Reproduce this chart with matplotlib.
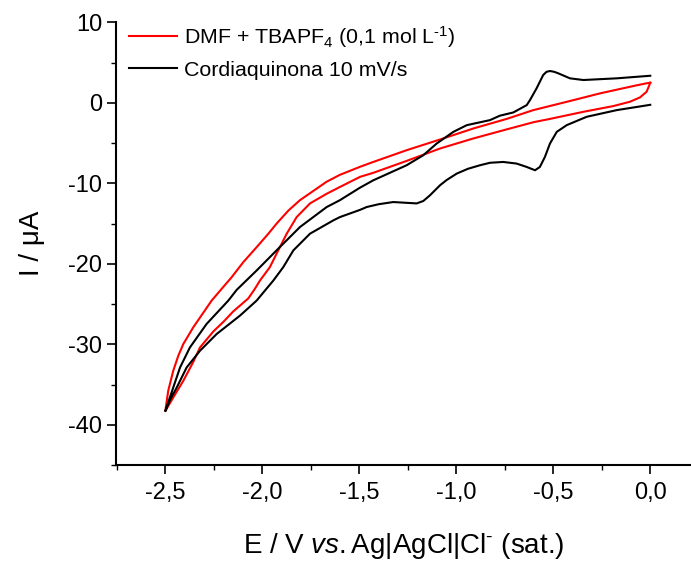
import matplotlib
matplotlib.use("Agg")
import matplotlib.pyplot as plt
from matplotlib.ticker import MultipleLocator, FuncFormatter

plt.rcParams['font.family'] = ['Liberation Sans', 'DejaVu Sans']
plt.rcParams['mathtext.fontset'] = 'custom'
plt.rcParams['mathtext.rm'] = 'Liberation Sans'
plt.rcParams['mathtext.it'] = 'Liberation Sans:italic'
plt.rcParams['axes.unicode_minus'] = False

# DMF + TBAPF4 blank: cathodic sweep from 0 V, then return sweep
red_x = [0.0, -0.008, -0.019, -0.053, -0.105, -0.191, -0.345, -0.517, -0.6, -0.74, -0.912,
         -1.084, -1.256, -1.428, -1.496, -1.6, -1.668, -1.754, -1.823, -1.874, -1.918, -1.961,
         -2.012, -2.038, -2.072, -2.149, -2.2, -2.252, -2.321, -2.356, -2.407, -2.459, -2.5,
         -2.485, -2.459, -2.433, -2.407, -2.356, -2.261, -2.209, -2.158, -2.098, -2.029,
         -1.97, -1.926, -1.866, -1.806, -1.668, -1.6, -1.496, -1.428, -1.256, -1.084, -0.912,
         -0.74, -0.603, -0.431, -0.259, -0.088, -0.02, 0.0]
red_y = [2.49, 2.0, 1.37, 0.67, 0.13, -0.41, -1.12, -2.0, -2.4, -3.3, -4.43,
         -5.68, -7.22, -8.7, -9.2, -10.46, -11.3, -12.5, -14.2, -16.26, -18.34, -20.42,
         -22.08, -23.1, -24.3, -25.9, -27.2, -28.4, -30.39, -32.2, -34.53, -36.61, -38.3,
         -35.78, -33.29, -31.42, -29.96, -27.9, -24.57, -23.1, -21.67, -19.8, -17.93,
         -16.3, -15.0, -13.4, -12.1, -9.8, -8.95, -7.95, -7.35, -5.89, -4.56, -3.19,
         -2.0, -0.91, 0.12, 1.17, 2.08, 2.42, 2.49]

# Cordiaquinona 10 mV/s: cathodic sweep from 0 V, then return sweep
black_x = [0.0, -0.173, -0.328, -0.431, -0.482, -0.517, -0.543, -0.569, -0.594, -0.637,
           -0.689, -0.758, -0.826, -0.878, -0.94, -0.998, -1.05, -1.084, -1.136, -1.17,
           -1.204, -1.24, -1.325, -1.4, -1.462, -1.496, -1.6, -1.634, -1.754, -1.84, -1.892,
           -1.943, -1.986, -2.029, -2.115, -2.235, -2.321, -2.39, -2.441, -2.475, -2.5,
           -2.459, -2.424, -2.373, -2.287, -2.175, -2.132, -2.029, -1.918, -1.806, -1.668,
           -1.6, -1.496, -1.428, -1.256, -1.17, -1.101, -1.015, -0.946, -0.826, -0.775,
           -0.706, -0.637, -0.62, -0.586, -0.552, -0.535, -0.517, -0.495, -0.474, -0.414,
           -0.345, -0.173, 0.0]
black_y = [-0.25, -0.91, -1.74, -2.78, -3.61, -5.06, -6.72, -7.97, -8.38, -7.97,
           -7.55, -7.35, -7.45, -7.76, -8.2, -8.8, -9.6, -10.25, -11.5, -12.2,
           -12.5, -12.45, -12.33, -12.6, -12.95, -13.3, -14.2, -14.61, -16.26, -18.34, -20.42,
           -22.08, -23.32, -24.57, -26.44, -28.72, -30.8, -32.88, -35.37, -36.9, -38.3,
           -35.37, -32.88, -30.39, -27.47, -24.57, -23.24, -20.83, -18.13, -15.44, -12.95,
           -12.1, -10.54, -9.63, -7.76, -6.51, -5.06, -3.61, -2.78, -2.15, -1.6,
           -1.2, -0.29, 0.34, 1.8, 3.45, 3.85, 3.95, 3.85, 3.66, 3.04,
           2.83, 3.04, 3.36]

fig = plt.figure(figsize=(6.91, 5.62), dpi=100)
ax = fig.add_axes([0.1682, 0.1726, 1 - 0.1682, 0.9603 - 0.1726])

ax.plot(red_x, red_y, color='#ff0000', lw=1.5, label='DMF + TBAPF$_4$ (0,1 mol L$^{\\text{-1}}$)')
ax.plot(black_x, black_y, color='black', lw=1.5, label='Cordiaquinona 10 mV/s')

ax.set_xlim(-2.753, 0.21)
ax.set_ylim(-45, 10)

ax.xaxis.set_major_locator(MultipleLocator(0.5))
ax.xaxis.set_minor_locator(MultipleLocator(0.25))
ax.yaxis.set_major_locator(MultipleLocator(10))
ax.yaxis.set_minor_locator(MultipleLocator(5))
ax.xaxis.set_major_formatter(FuncFormatter(lambda v, p: f"{v:.1f}".replace('.', ',').replace('-0,0', '0,0')))
ax.yaxis.set_major_formatter(FuncFormatter(lambda v, p: f"{v:.0f}"))

ax.spines['top'].set_visible(False)
ax.spines['right'].set_visible(False)
ax.spines['left'].set_linewidth(1.5)
ax.spines['bottom'].set_linewidth(1.5)
ax.tick_params(which='major', direction='out', length=6.5, width=1.2, labelsize=17)
ax.tick_params(axis='x', which='major', pad=6)
ax.tick_params(which='minor', direction='out', length=3.5, width=1.0)

ax.set_xlabel('E / V $\\mathit{vs.}$Ag|AgCl|Cl$^{\\text{-}}$ (sat.)', fontsize=20, labelpad=19)
ax.set_ylabel('I / \u03bcA', fontsize=20, labelpad=17)

ax.legend(loc='upper left', bbox_to_anchor=(0.004, 1.02), frameon=False, fontsize=15.4,
          handlelength=2.25, handletextpad=0.33, labelspacing=0.5, borderpad=0)

fig.savefig('out.png', dpi=100)
